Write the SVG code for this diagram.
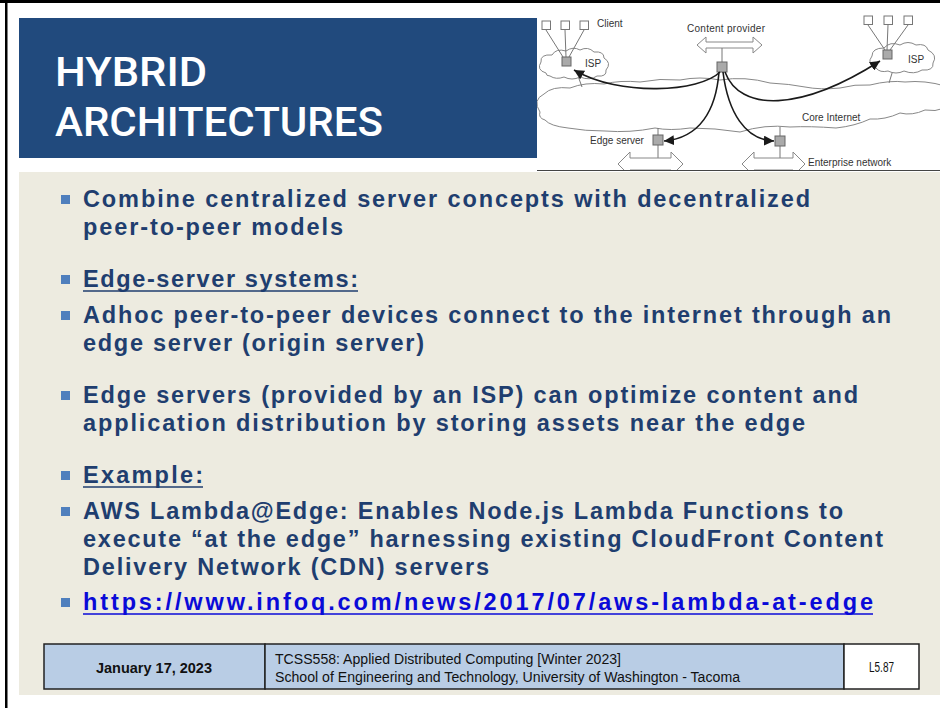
<svg xmlns="http://www.w3.org/2000/svg" width="940" height="708" viewBox="0 0 940 708">
<defs>
<style>
.ttl{font-family:Roboto,"Liberation Sans",sans-serif;font-weight:500;font-size:40px;fill:#ffffff}
.bt{font-family:"Liberation Sans",Arial,sans-serif;font-weight:bold;font-size:23.5px;fill:#1f3e6f}
.lnk{fill:#0a0ad8}
.uln{stroke:#1f3e6f;stroke-width:1.6}
.ulk{stroke:#0a0ad8;stroke-width:1.6}
.bul{fill:#4f7fbd}
.dl{font-family:"Liberation Sans",Arial,sans-serif;font-size:10px;fill:#333}
.cl{fill:#fff;stroke:#888;stroke-width:1}
.gl{stroke:#777;stroke-width:1;fill:none}
.sq{fill:#fff;stroke:#777;stroke-width:1}
.srv{fill:#aaa;stroke:#666;stroke-width:1}
.dar{fill:#fff;stroke:#888;stroke-width:1}
.arw{fill:none;stroke:#1a1a1a;stroke-width:1.6}
.ft{font-family:"Liberation Sans",Arial,sans-serif;font-size:14px;fill:#111}
.fbox{stroke:#222;stroke-width:1.5}
</style>
<marker id="ah" markerUnits="userSpaceOnUse" markerWidth="12" markerHeight="10" refX="10" refY="5" orient="auto">
<path d="M0,0 L10,5 L0,10 Z" fill="#1a1a1a"/>
</marker>
<clipPath id="imgclip"><rect x="537" y="4" width="403" height="167"/></clipPath>
</defs>

<rect x="0" y="0" width="940" height="708" fill="#ffffff"/>
<rect x="0" y="0" width="940" height="3" fill="#000"/>
<rect x="5" y="0" width="2.5" height="708" fill="#000"/>

<rect id="content-panel" x="19" y="172" width="921" height="523" fill="#edebe0"/>

<g id="title">
<rect x="19" y="18" width="518" height="140" fill="#214a7d"/>
<text class="ttl" x="55" y="86" textLength="152" lengthAdjust="spacingAndGlyphs">HYBRID</text>
<text class="ttl" x="55" y="136" textLength="328" lengthAdjust="spacingAndGlyphs">ARCHITECTURES</text>
</g>

<g id="figure" clip-path="url(#imgclip)">
<rect x="537" y="4" width="403" height="167" fill="#fff"/>
<g id="core-internet">
<path class="cl" d="M540 112 Q532 100 544 94 Q552 86 570 88 Q585 82 604 84 Q620 80 640 82 Q660 78 680 80 Q700 76 720 80 Q745 76 770 83 Q790 84 805 87 Q820 90 840 88 Q855 84 870 85 Q890 80 905 82 Q925 80 945 86 L945 108 Q935 112 925 110 Q912 116 900 113 Q885 120 870 119 Q855 126 836 128 Q810 126 790 127 Q765 124 740 132 Q715 128 690 128 Q670 131 655 128 Q630 133 605 131 Q585 131 568 128 Q550 126 545 120 Q538 118 540 112 Z"/>
<text class="dl" x="802" y="121">Core Internet</text>
</g>
<g id="isp-left">
<line class="gl" x1="578" y1="76" x2="582" y2="87"/>
<path class="cl" d="M546 73 Q536 70 541 62 Q540 54 552 55 Q556 48 566 51 Q573 46 580 50 Q588 46 594 52 Q604 51 604 58 Q612 63 606 70 Q607 77 597 76 Q590 81 580 77 Q572 81 564 77 Q556 80 550 76 Q546 76 546 73 Z"/>
<line class="gl" x1="546" y1="30" x2="563" y2="57"/>
<line class="gl" x1="565" y1="30" x2="566" y2="57"/>
<line class="gl" x1="584" y1="30" x2="569" y2="57"/>
<rect class="sq" x="542" y="21" width="8.5" height="8.5"/>
<rect class="sq" x="561" y="21" width="8.5" height="8.5"/>
<rect class="sq" x="580" y="21" width="8.5" height="8.5"/>
<rect class="srv" x="562" y="57" width="9" height="9"/>
<text class="dl" x="585" y="67">ISP</text>
<text class="dl" x="597" y="27">Client</text>
</g>
<g id="isp-right">
<line class="gl" x1="893" y1="70" x2="889" y2="83"/>
<path class="cl" d="M876 68 Q866 64 872 56 Q872 48 884 48 Q890 41 900 45 Q908 40 916 45 Q926 43 928 50 Q938 55 933 63 Q934 71 922 70 Q914 75 904 71 Q896 75 888 71 Q880 73 876 68 Z"/>
<line class="gl" x1="868" y1="25" x2="885" y2="50"/>
<line class="gl" x1="888" y1="25" x2="887" y2="50"/>
<line class="gl" x1="908" y1="25" x2="890" y2="50"/>
<rect class="sq" x="864" y="16" width="8.5" height="8.5"/>
<rect class="sq" x="884" y="16" width="8.5" height="8.5"/>
<rect class="sq" x="904" y="16" width="8.5" height="8.5"/>
<rect class="srv" x="883" y="50" width="9" height="9"/>
<text class="dl" x="908" y="63">ISP</text>
</g>
<g id="content-provider">
<text class="dl" x="687" y="32" font-size="10.5" textLength="78">Content provider</text>
<path class="dar" d="M697 45 L706 37 L706 42 L753 42 L753 37 L762 45 L753 53 L753 48 L706 48 L706 53 Z"/>
<line class="gl" x1="722" y1="48" x2="722" y2="62"/>
<rect class="srv" x="717" y="62" width="10" height="10"/>
</g>
<g id="edge-server">
<line class="gl" x1="658" y1="128" x2="658" y2="135"/>
<line class="gl" x1="658" y1="145" x2="658" y2="158"/>
<rect class="srv" x="653" y="135" width="10" height="10"/>
<path class="dar" d="M618 164 L630 152 L630 158 L671 158 L671 152 L683 164 L671 176 L671 170 L630 170 L630 176 Z"/>
<text class="dl" x="590" y="144">Edge server</text>
</g>
<g id="enterprise">
<line class="gl" x1="780" y1="127" x2="780" y2="136"/>
<line class="gl" x1="780" y1="146" x2="780" y2="158"/>
<rect class="srv" x="775" y="136" width="10" height="10"/>
<path class="dar" d="M742 164 L754 152 L754 158 L793 158 L793 152 L805 164 L793 176 L793 170 L754 170 L754 176 Z"/>
<text class="dl" x="808" y="166">Enterprise network</text>
</g>
<g id="connectors">
<path class="arw" d="M720 72 C700 92 620 97 574 70" marker-end="url(#ah)"/>
<path class="arw" d="M725 72 C740 112 800 112 880 61" marker-end="url(#ah)"/>
<path class="arw" d="M719 72 C716 110 700 138 664 141" marker-end="url(#ah)"/>
<path class="arw" d="M723 72 C728 112 745 140 774 141" marker-end="url(#ah)"/>
</g>
<line x1="537" y1="170.5" x2="940" y2="170.5" stroke="#444" stroke-width="1.2"/>
</g>

<g id="bullets">
<rect class="bul" x="61" y="195" width="9" height="9"/>
<text class="bt" x="83" y="207" textLength="727" lengthAdjust="spacing">Combine centralized server concepts with decentralized</text>
<text class="bt" x="83" y="235" textLength="260" lengthAdjust="spacing">peer-to-peer models</text>

<rect class="bul" x="61" y="275" width="9" height="9"/>
<text class="bt" x="83" y="287" textLength="275" lengthAdjust="spacing">Edge-server systems:</text>
<line class="uln" x1="83" y1="291" x2="358" y2="291"/>

<rect class="bul" x="61" y="311" width="9" height="9"/>
<text class="bt" x="83" y="323" textLength="808" lengthAdjust="spacing">Adhoc peer-to-peer devices connect to the internet through an</text>
<text class="bt" x="83" y="351" textLength="341" lengthAdjust="spacing">edge server (origin server)</text>

<rect class="bul" x="61" y="391" width="9" height="9"/>
<text class="bt" x="83" y="403" textLength="775" lengthAdjust="spacing">Edge servers (provided by an ISP) can optimize content and</text>
<text class="bt" x="83" y="431" textLength="722" lengthAdjust="spacing">application distribution by storing assets near the edge</text>

<rect class="bul" x="61" y="471" width="9" height="9"/>
<text class="bt" x="83" y="483" textLength="120" lengthAdjust="spacing">Example:</text>
<line class="uln" x1="83" y1="487" x2="203" y2="487"/>

<rect class="bul" x="61" y="507" width="9" height="9"/>
<text class="bt" x="83" y="519" textLength="760" lengthAdjust="spacing">AWS Lambda@Edge: Enables Node.js Lambda Functions to</text>
<text class="bt" x="83" y="547" textLength="800" lengthAdjust="spacing">execute “at the edge” harnessing existing CloudFront Content</text>
<text class="bt" x="83" y="575" textLength="406" lengthAdjust="spacing">Delivery Network (CDN) servers</text>

<rect class="bul" x="61" y="598" width="9" height="9"/>
<text class="bt lnk" x="83" y="610" textLength="790" lengthAdjust="spacing">https://www.infoq.com/news/2017/07/aws-lambda-at-edge</text>
<line class="ulk" x1="83" y1="614" x2="873" y2="614"/>
</g>

<g id="footer">
<rect class="fbox" x="44" y="644" width="221" height="45" fill="#b9cde5"/>
<rect class="fbox" x="265" y="644" width="579" height="45" fill="#b9cde5"/>
<rect class="fbox" x="844" y="644" width="75" height="45" fill="#ffffff"/>
<text class="ft" x="96" y="673" font-weight="bold" textLength="116" lengthAdjust="spacingAndGlyphs">January 17, 2023</text>
<text class="ft" x="275" y="664" textLength="346" lengthAdjust="spacingAndGlyphs">TCSS558: Applied Distributed Computing [Winter 2023]</text>
<text class="ft" x="275" y="682" textLength="465" lengthAdjust="spacingAndGlyphs">School of Engineering and Technology, University of Washington - Tacoma</text>
<text class="ft" x="869" y="672" font-size="12" textLength="25" lengthAdjust="spacingAndGlyphs">L5.87</text>
</g>
</svg>
